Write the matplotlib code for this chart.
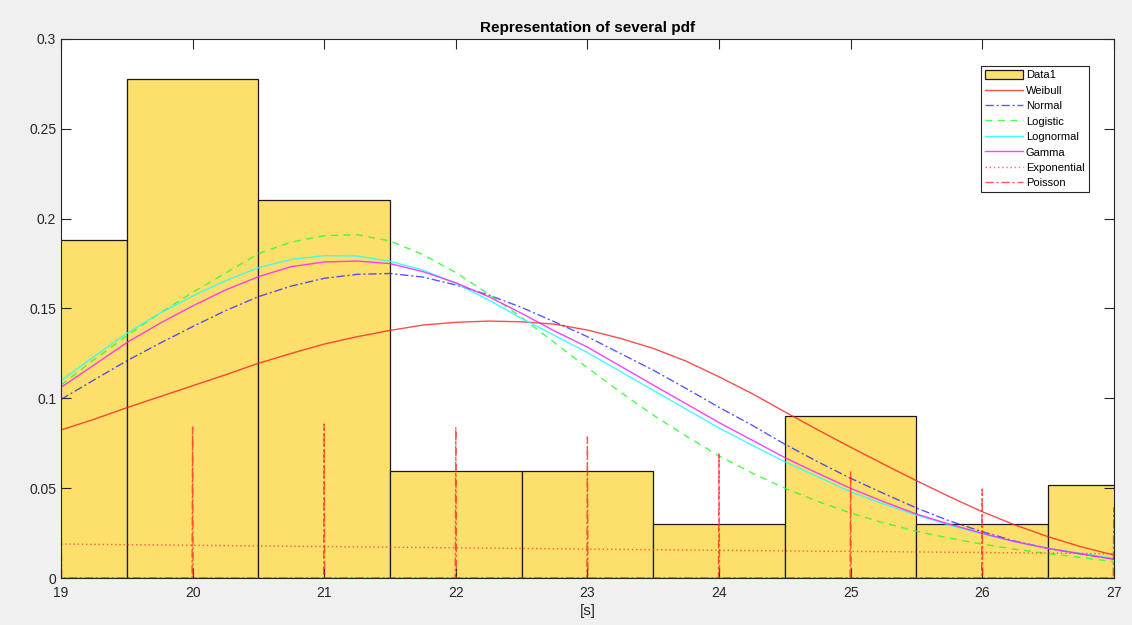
import matplotlib
matplotlib.use("Agg")
import matplotlib.pyplot as plt

plt.rcParams['font.family'] = ['Liberation Sans', 'DejaVu Sans']

# histogram (bin centers and heights)
bins = [19, 20, 21, 22, 23, 24, 25, 26, 27]
data1 = [0.188, 0.278, 0.2105, 0.0598, 0.0598, 0.030, 0.090, 0.030, 0.052]

# fitted pdfs read at quarter-second steps
xs = [19, 19.25, 19.5, 19.75, 20, 20.25, 20.5, 20.75, 21, 21.25, 21.5, 21.75, 22, 22.25, 22.5,
      22.75, 23, 23.25, 23.5, 23.75, 24, 24.25, 24.5, 24.75, 25, 25.25, 25.5, 25.75, 26, 26.25,
      26.5, 26.75, 27]
weibull = [0.0824, 0.0883, 0.0948, 0.1009, 0.1070, 0.1131, 0.1195, 0.1250, 0.1302, 0.1343, 0.1378,
           0.1408, 0.1423, 0.1430, 0.1426, 0.1413, 0.1380, 0.1334, 0.1278, 0.1207, 0.1120, 0.1027,
           0.0925, 0.0825, 0.0728, 0.0634, 0.0542, 0.0453, 0.0369, 0.0295, 0.0230, 0.0174, 0.0128]
normal = [0.0994, 0.1102, 0.1209, 0.1306, 0.1399, 0.1488, 0.1566, 0.1625, 0.1668, 0.1690, 0.1695,
          0.1675, 0.1631, 0.1575, 0.1506, 0.1426, 0.1343, 0.1250, 0.1157, 0.1055, 0.0950, 0.0851,
          0.0745, 0.0647, 0.0555, 0.0471, 0.0390, 0.0318, 0.0258, 0.0205, 0.0165, 0.0134, 0.0106]
logistic = [0.1074, 0.1215, 0.1348, 0.1474, 0.1590, 0.1697, 0.1805, 0.1870, 0.1905, 0.1911, 0.1876,
            0.1800, 0.1700, 0.1580, 0.1450, 0.1310, 0.1170, 0.1035, 0.0907, 0.0790, 0.0680, 0.0585,
            0.0500, 0.0427, 0.0362, 0.0307, 0.0260, 0.0222, 0.0189, 0.0160, 0.0136, 0.0114, 0.0091]
lognormal = [0.1098, 0.1232, 0.1362, 0.1473, 0.1569, 0.1655, 0.1727, 0.1773, 0.1794, 0.1792, 0.1763,
             0.1714, 0.1640, 0.1547, 0.1445, 0.1350, 0.1255, 0.1150, 0.1045, 0.0940, 0.0835, 0.0740,
             0.0647, 0.0564, 0.0480, 0.0412, 0.0351, 0.0295, 0.0245, 0.0202, 0.0165, 0.0137, 0.0110]
gamma = [0.1061, 0.1185, 0.1310, 0.1417, 0.1514, 0.1603, 0.1677, 0.1733, 0.1759, 0.1764, 0.1750,
         0.1705, 0.1643, 0.1566, 0.1473, 0.1375, 0.1285, 0.1180, 0.1074, 0.0970, 0.0865, 0.0768,
         0.0670, 0.0583, 0.0499, 0.0425, 0.0356, 0.0300, 0.0249, 0.0202, 0.0165, 0.0134, 0.0104]

# exponential and poisson at integer seconds
exponential = [0.0189, 0.0182, 0.0175, 0.0168, 0.0161, 0.0154, 0.0148, 0.0142, 0.0135]
poisson = [0.078, 0.084, 0.0857, 0.084, 0.0785, 0.0696, 0.0595, 0.0495, 0.039]

fig = plt.figure(figsize=(11.32, 6.25), dpi=100, facecolor='#f0f0f0')
ax = fig.add_axes([0.0539, 0.0752, 0.930, 0.8624])

hb = ax.bar(bins, data1, width=1.0, color='#fddf6b', edgecolor='#1a1a1a', linewidth=0.9, label='Data1')
ax.plot(xs, weibull, color='#ff2020', lw=1.0, alpha=0.8, label='Weibull')
ax.plot(xs, normal, color='#2020ff', lw=1.0, ls=(0, (6, 2, 1.5, 2)), alpha=0.75, label='Normal')
ax.plot(xs, logistic, color='#20ff20', lw=1.0, ls=(0, (5, 4)), alpha=0.8, label='Logistic')
ax.plot(xs, lognormal, color='#20ffff', lw=1.0, alpha=0.85, label='Lognormal')
ax.plot(xs, gamma, color='#ff20ff', lw=1.0, alpha=0.85, label='Gamma')
ax.plot(bins, exponential, color='#ff3030', lw=1.0, ls=(0, (1, 2)), alpha=0.75, label='Exponential')

# poisson drawn as spikes at each integer
px, py = [], []
for k, p in zip(bins, poisson):
    px += [k - 0.004, k, k + 0.004]
    py += [0, p, 0]
ax.plot(px, py, color='#ff2020', lw=1.0, ls=(0, (6, 2, 1.5, 2)), alpha=0.75, label='Poisson')

ax.set_xlim(19, 27)
ax.set_ylim(0, 0.3)
ax.set_xticks(range(19, 28))
ax.set_yticks([0, 0.05, 0.1, 0.15, 0.2, 0.25, 0.3])
ax.set_yticklabels(['0', '0.05', '0.1', '0.15', '0.2', '0.25', '0.3'])
ax.tick_params(direction='in', length=7, width=0.8, colors='#262626', labelsize=10,
               top=True, right=True, labeltop=False, labelright=False)
ax.tick_params(axis='x', pad=6)
for s in ax.spines.values():
    s.set_color('#262626')
    s.set_linewidth(0.8)

ax.set_xlabel('[s]', fontsize=11, color='#262626', labelpad=3)
ax.set_title('Representation of several pdf', fontsize=11, fontweight='bold', color='#000000', pad=5)

handles, labels = ax.get_legend_handles_labels()
order = [labels.index('Data1')] + [i for i, l in enumerate(labels) if l != 'Data1']
leg = ax.legend([handles[i] for i in order], [labels[i] for i in order],
                loc='upper right', bbox_to_anchor=(0.976, 0.950), fontsize=8, fancybox=False,
                edgecolor='#262626', framealpha=1, handlelength=3.4, handleheight=0.9,
                handletextpad=0.3, labelspacing=0.45, borderpad=0.35, borderaxespad=0)
leg.get_frame().set_linewidth(0.8)

fig.savefig('out.png', dpi=100, facecolor=fig.get_facecolor())
